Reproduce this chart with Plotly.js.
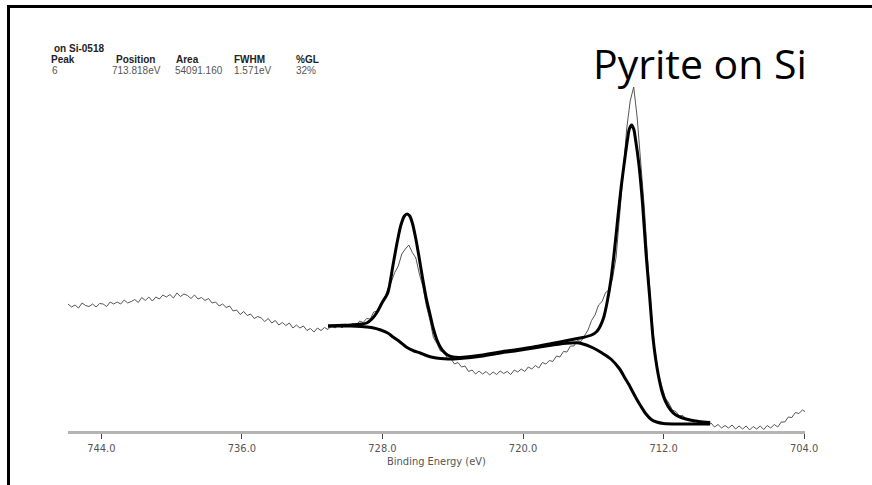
<!DOCTYPE html>
<html>
<head>
<meta charset="utf-8">
<script src="https://cdn.plot.ly/plotly-3.0.1.min.js"></script>
<style>
  html, body { margin: 0; padding: 0; background: #ffffff; }
  #chart { width: 872px; height: 485px; }
</style>
</head>
<body>
<div id="chart"></div>
<script>
// S 2p region, pyrite film on Si: measured spectrum (binding energy in eV, intensity in kCPS)
const rawEnergy = [
  745.9, 745.7, 745.5, 745.3, 745.1, 744.9, 744.7, 744.5, 744.3, 744.1,
  743.9, 743.7, 743.5, 743.3, 743.1, 742.9, 742.7, 742.5, 742.3, 742.1,
  741.9, 741.7, 741.5, 741.3, 741.1, 740.9, 740.7, 740.5, 740.3, 740.1,
  739.9, 739.7, 739.5, 739.3, 739.1, 738.9, 738.7, 738.5, 738.3, 738.1,
  737.9, 737.7, 737.5, 737.3, 737.1, 736.9, 736.7, 736.5, 736.3, 736.1,
  735.9, 735.7, 735.5, 735.3, 735.1, 734.9, 734.7, 734.5, 734.3, 734.1,
  733.9, 733.7, 733.5, 733.3, 733.1, 732.9, 732.7, 732.5, 732.3, 732.1,
  731.9, 731.7, 731.5, 731.3, 731.1, 730.9, 730.7, 730.5, 730.3, 730.1,
  729.9, 729.7, 729.5, 729.3, 729.1, 728.9, 728.7, 728.5, 728.3, 728.1,
  727.9, 727.7, 727.5, 727.3, 727.1, 726.9, 726.7, 726.5, 726.3, 726.1,
  725.9, 725.7, 725.5, 725.3, 725.1, 724.9, 724.7, 724.5, 724.3, 724.1,
  723.9, 723.7, 723.5, 723.3, 723.1, 722.9, 722.7, 722.5, 722.3, 722.1,
  721.9, 721.7, 721.5, 721.3, 721.1, 720.9, 720.7, 720.5, 720.3, 720.1,
  719.9, 719.7, 719.5, 719.3, 719.1, 718.9, 718.7, 718.5, 718.3, 718.1,
  717.9, 717.7, 717.5, 717.3, 717.1, 716.9, 716.7, 716.5, 716.3, 716.1,
  715.9, 715.7, 715.5, 715.3, 715.1, 714.9, 714.7, 714.5, 714.3, 714.1,
  713.9, 713.7, 713.5, 713.3, 713.1, 712.9, 712.7, 712.5, 712.3, 712.1,
  711.9, 711.7, 711.5, 711.3, 711.1, 710.9, 710.7, 710.5, 710.3, 710.1,
  709.9, 709.7, 709.5, 709.3, 709.1, 708.9, 708.7, 708.5, 708.3, 708.1,
  707.9, 707.7, 707.5, 707.3, 707.1, 706.9, 706.7, 706.5, 706.3, 706.1,
  705.9, 705.7, 705.5, 705.3, 705.1, 704.9, 704.7, 704.5, 704.3, 704.1,
  703.9
];
const rawCounts = [
  12.7, 12.4, 12.6, 12.3, 12.8, 12.55, 12.45, 12.7, 12.4, 12.75,
  12.7, 12.45, 12.9, 12.7, 12.9, 12.7, 13.1, 12.8, 12.95, 13.15,
  12.85, 13.35, 13.05, 13.4, 13.0, 13.4, 13.2, 13.6, 13.4, 13.65,
  13.3, 13.8, 13.45, 13.7, 13.55, 13.25, 13.6, 13.2, 13.35, 13.05,
  13.25, 12.8, 12.9, 12.5, 12.7, 12.35, 12.5, 12.0, 12.1, 11.65,
  11.95, 11.55, 11.7, 11.25, 11.45, 11.3, 10.95, 11.25, 10.8, 11.05,
  10.6, 10.85, 10.55, 10.8, 10.3, 10.6, 10.3, 10.5, 10.05, 10.25,
  9.9, 10.3, 10.05, 10.35, 10.15, 10.55, 10.3, 10.6, 10.3, 10.7,
  10.45, 10.75, 10.55, 11.0, 10.85, 11.25, 11.2, 11.9, 12.0, 12.75,
  13.15, 14.2, 14.9, 15.85, 16.5, 17.7, 18.2, 18.6, 17.85, 17.3,
  15.7, 14.45, 12.5, 11.1, 9.35, 8.75, 8.0, 7.9, 7.25, 7.2,
  6.7, 6.85, 6.4, 6.5, 5.95, 6.1, 5.7, 6.0, 5.7, 5.95,
  5.6, 5.9, 5.65, 6.0, 5.75, 5.95, 5.65, 6.1, 5.9, 6.2,
  5.95, 6.4, 6.2, 6.55, 6.3, 6.85, 6.7, 7.05, 6.95, 7.5,
  7.4, 7.95, 7.9, 8.5, 8.5, 9.05, 8.95, 9.6, 10.1, 11.05,
  11.6, 12.6, 12.95, 13.85, 14.1, 15.3, 17.4, 21.6, 26.0, 30.2,
  33.0, 34.4, 31.3, 27.0, 22.4, 17.0, 12.0, 8.1, 5.8, 4.5,
  3.3, 2.8, 2.1, 1.95, 1.5, 1.55, 1.15, 1.2, 0.9, 1.1,
  0.7, 0.95, 0.6, 0.8, 0.4, 0.65, 0.3, 0.55, 0.3, 0.6,
  0.2, 0.5, 0.2, 0.5, 0.1, 0.45, 0.2, 0.5, 0.15, 0.55,
  0.3, 0.65, 0.4, 0.9, 0.9, 1.4, 1.35, 1.85, 1.75, 2.1,
  1.9
];

// Fitted envelope (background + components)
const envEnergy = [
  731.1, 730.5, 729.8, 729.2, 728.9, 728.6, 728.3, 728.0, 727.7, 727.4,
  727.15, 726.95, 726.75, 726.6, 726.45, 726.3, 726.1, 725.9, 725.7, 725.5,
  725.3, 725.1, 724.9, 724.6, 724.3, 724.0, 723.6, 722.3, 721.3, 720.3,
  719.4, 718.5, 717.9, 717.2, 716.6, 716.1, 715.8, 715.6, 715.4, 715.2,
  715.0, 714.8, 714.6, 714.4, 714.2, 714.05, 713.95, 713.818, 713.7, 713.6,
  713.4, 713.2, 713.0, 712.8, 712.6, 712.45, 712.3, 712.1, 711.9, 711.6,
  711.3, 711.0, 710.5, 710.0, 709.35
];
const envCounts = [
  10.5, 10.55, 10.6, 10.7, 10.8, 11.2, 11.9, 12.9, 13.8, 16.6,
  19.0, 20.6, 21.5, 21.7, 21.5, 20.8, 19.2, 17.2, 15.1, 13.2,
  11.7, 10.2, 9.1, 8.1, 7.6, 7.4, 7.35, 7.6, 7.9, 8.15,
  8.4, 8.7, 8.9, 9.15, 9.35, 9.6, 9.95, 10.5, 11.4, 13.0,
  15.1, 18.0, 21.4, 24.6, 27.3, 29.2, 30.2, 30.6, 30.2, 29.2,
  26.6, 22.8, 17.8, 13.6, 9.3, 7.2, 5.6, 4.0, 3.0, 2.1,
  1.6, 1.35, 1.1, 0.95, 0.85
];

// Shirley-type background
const bgEnergy = [
  731.1, 730.5, 729.8, 729.2, 728.9, 728.5, 728.1, 727.7, 727.4, 727.0,
  726.65, 726.2, 725.85, 725.5, 725.1, 724.7, 724.3, 723.6, 722.3, 721.3,
  720.3, 719.4, 718.5, 717.9, 717.3, 716.8, 716.4, 716.0, 715.5, 715.0,
  714.5, 714.2, 713.9, 713.6, 713.3, 713.0, 712.7, 712.4, 712.0, 711.0,
  709.35
];
const bgCounts = [
  10.5, 10.5, 10.5, 10.45, 10.4, 10.3, 10.1, 9.8, 9.4, 8.9,
  8.4, 8.0, 7.8, 7.55, 7.35, 7.25, 7.2, 7.25, 7.5, 7.8,
  8.05, 8.3, 8.55, 8.7, 8.8, 8.8, 8.6, 8.3, 7.8, 7.2,
  6.2, 5.3, 4.4, 3.4, 2.5, 1.7, 1.15, 0.9, 0.75, 0.7,
  0.7
];

const tickValues = [744, 736, 728, 720, 712, 704];
const tickLabels = ["744.0", "736.0", "728.0", "720.0", "712.0", "704.0"];

const sampleName = "on Si-0518";
const peakHeaders = ["Peak", "Position", "Area", "FWHM", "%GL"];
const peakValues = ["6", "713.818eV", "54091.160", "1.571eV", "32%"];
const chartTitle = "Pyrite on Si";

// Paper-coordinate helpers for a plot area spanning x 68..805 px and y 70..431 px
const PX0 = 68, PW = 737, PY0 = 431, PH = 361;
const px = x => (x - PX0) / PW;
const py = y => (PY0 - y) / PH;

const smallFont = "Liberation Sans, Arial, sans-serif";
const narrowFont = "Liberation Sans Narrow, Arial Narrow, DejaVu Sans Condensed, sans-serif";

const headerX = [49, 114, 174, 232, 294];
const valueX = [50, 110, 173, 232, 294];

const annotations = [];
annotations.push({
  xref: "paper", yref: "paper", x: px(52), y: py(49),
  xanchor: "left", yanchor: "middle", showarrow: false,
  text: "<b>" + sampleName + "</b>",
  font: { family: smallFont, size: 10, color: "#222222" }
});
peakHeaders.forEach((h, i) => {
  annotations.push({
    xref: "paper", yref: "paper", x: px(headerX[i]), y: py(59.5),
    xanchor: "left", yanchor: "middle", showarrow: false,
    text: "<b>" + h + "</b>",
    font: { family: smallFont, size: 10, color: "#222222" }
  });
});
peakValues.forEach((v, i) => {
  annotations.push({
    xref: "paper", yref: "paper", x: px(valueX[i]), y: py(71),
    xanchor: "left", yanchor: "middle", showarrow: false,
    text: v,
    font: { family: smallFont, size: 10, color: "#555555" }
  });
});
annotations.push({
  xref: "paper", yref: "paper", x: px(700), y: py(63),
  xanchor: "center", yanchor: "middle", showarrow: false,
  text: chartTitle,
  font: { family: "Open Sans, Noto Sans, sans-serif", size: 41, color: "#000000" }
});

const traces = [
  {
    x: rawEnergy, y: rawCounts, type: "scatter", mode: "lines",
    line: { color: "#555555", width: 1 }, hoverinfo: "skip"
  },
  {
    x: bgEnergy, y: bgCounts, type: "scatter", mode: "lines",
    line: { color: "#000000", width: 3, shape: "spline", smoothing: 0.8 }, hoverinfo: "skip"
  },
  {
    x: envEnergy, y: envCounts, type: "scatter", mode: "lines",
    line: { color: "#000000", width: 3, shape: "spline", smoothing: 0.8 }, hoverinfo: "skip"
  }
];

const layout = {
  width: 872, height: 485,
  margin: { l: 68, r: 67, t: 70, b: 54, pad: 0 },
  paper_bgcolor: "#ffffff", plot_bgcolor: "#ffffff",
  showlegend: false,
  xaxis: {
    range: [745.9, 703.95],
    tickmode: "array", tickvals: tickValues, ticktext: tickLabels,
    ticks: "outside", ticklen: 5, tickwidth: 1, tickcolor: "#444444",
    showline: true, linecolor: "#b4b4b4", linewidth: 3,
    showgrid: false, zeroline: false,
    tickfont: { family: narrowFont, size: 11, color: "#555555" },
    title: { text: "Binding Energy (eV)", standoff: 2,
             font: { family: narrowFont, size: 11, color: "#555555" } }
  },
  yaxis: { visible: false, range: [0, 36.1], fixedrange: true },
  annotations: annotations,
  shapes: [
    { type: "line", xref: "paper", yref: "paper",
      x0: px(8.5), x1: px(8.5), y0: py(5), y1: py(490),
      line: { color: "#000000", width: 3 } },
    { type: "line", xref: "paper", yref: "paper",
      x0: px(7), x1: px(880), y0: py(6.5), y1: py(6.5),
      line: { color: "#000000", width: 3 } }
  ]
};

Plotly.newPlot("chart", traces, layout, { displayModeBar: false, staticPlot: true });
</script>
</body>
</html>
